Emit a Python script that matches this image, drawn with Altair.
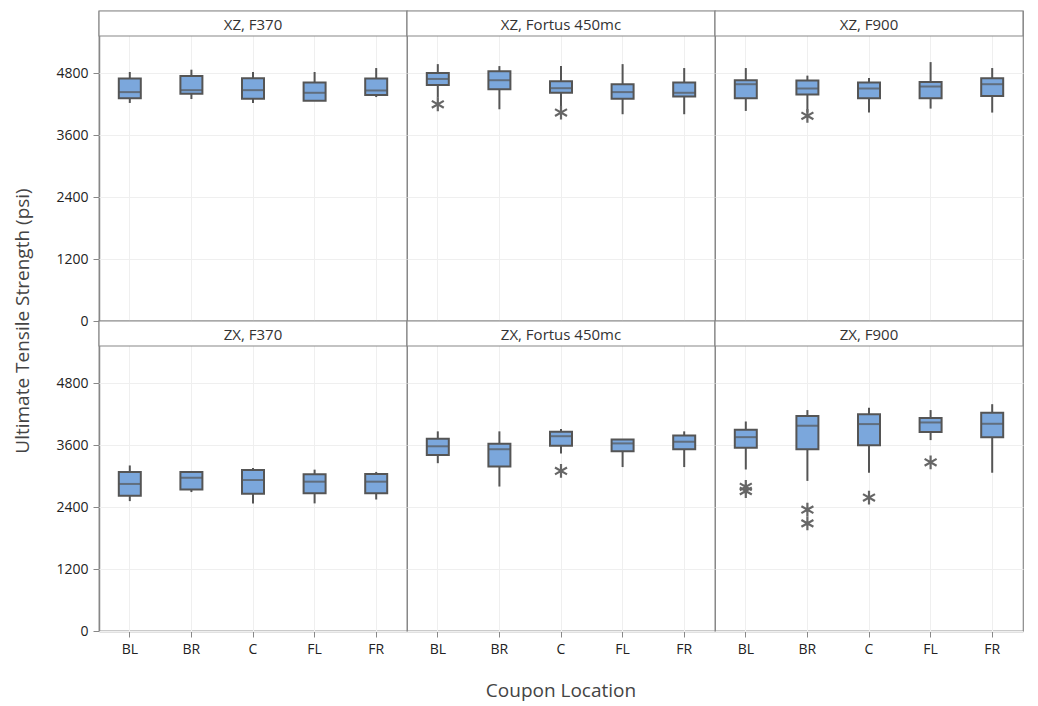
import altair as alt
import pandas as pd

orientations = ["XZ", "ZX"]
printers = ["F370", "Fortus 450mc", "F900"]
locations = ["BL", "BR", "C", "FL", "FR"]

# order: orientation -> printer -> location
whisker_low = [
    4220, 4296, 4220, 4264, 4334,
    4321, 4098, 4162, 4002, 4002,
    4066, 4034, 4034, 4111, 4034,
    2514, 2689, 2470, 2470, 2545,
    3248, 2796, 3437, 3173, 3173,
    3126, 2905, 3063, 3695, 3063,
]
q1 = [
    4309, 4398, 4302, 4264, 4372,
    4570, 4487, 4417, 4302, 4347,
    4309, 4385, 4309, 4309, 4353,
    2620, 2740, 2658, 2664, 2664,
    3405, 3186, 3587, 3481, 3518,
    3549, 3518, 3594, 3853, 3752,
]
median = [
    4430, 4468, 4468, 4417, 4462,
    4685, 4660, 4506, 4430, 4417,
    4583, 4500, 4500, 4538, 4583,
    2846, 2966, 2922, 2890, 2890,
    3575, 3518, 3770, 3631, 3663,
    3752, 3973, 4005, 4036, 4011,
]
q3 = [
    4692, 4743, 4698, 4615, 4692,
    4800, 4832, 4640, 4583, 4615,
    4660, 4653, 4615, 4628, 4698,
    3079, 3079, 3116, 3035, 3041,
    3719, 3625, 3857, 3707, 3782,
    3897, 4163, 4194, 4125, 4226,
]
whisker_high = [
    4819, 4864, 4819, 4819, 4896,
    4972, 4934, 4934, 4972, 4896,
    4896, 4749, 4704, 5011, 4896,
    3204, 3079, 3154, 3123, 3079,
    3864, 3864, 3908, 3707, 3864,
    4055, 4276, 4320, 4276, 4390,
]

outlier_orientation = ["XZ", "XZ", "XZ", "ZX", "ZX", "ZX", "ZX", "ZX", "ZX", "ZX"]
outlier_printer = ["Fortus 450mc", "Fortus 450mc", "F900", "Fortus 450mc",
                   "F900", "F900", "F900", "F900", "F900", "F900"]
outlier_location = ["BL", "C", "BR", "C", "BL", "BL", "BR", "BR", "C", "FL"]
outlier_value = [4194, 4034, 3971, 3098, 2790, 2710, 2349, 2083, 2582, 3265]

rows = []
i = 0
for o in orientations:
    for p in printers:
        for loc in locations:
            rows.append(dict(kind="box", orient=o, printer=p, loc=loc,
                             panel=f"{o}, {p}", lo=whisker_low[i], q1=q1[i],
                             med=median[i], q3=q3[i], hi=whisker_high[i], val=None))
            i += 1
for o, p, loc, v in zip(outlier_orientation, outlier_printer, outlier_location, outlier_value):
    rows.append(dict(kind="out", orient=o, printer=p, loc=loc, panel=f"{o}, {p}",
                     lo=None, q1=None, med=None, q3=None, hi=None, val=v))
df = pd.DataFrame(rows)

W = 308
H = 310
HEAD = 25
FONT = "Open Sans"
BOX_FILL = "#7ba7dc"
LINE = "#555555"

xenc = alt.X("loc:N", sort=locations, title=None,
             scale=alt.Scale(paddingInner=0, paddingOuter=0),
             axis=alt.Axis(labelAngle=0))
yscale = alt.Scale(domain=[0, 6000], nice=False)
yaxis = alt.Axis(values=[0, 1200, 2400, 3600, 4800], title=None, format="d")

base = alt.Chart()
boxdata = base.transform_filter(alt.datum.kind == "box")

whisk = boxdata.mark_rule(color=LINE, strokeWidth=2).encode(
    x=xenc, y=alt.Y("lo:Q", scale=yscale, axis=yaxis), y2="hi:Q")
box = boxdata.mark_bar(size=22, fill=BOX_FILL, stroke=LINE, strokeWidth=2).encode(
    x=xenc, y=alt.Y("q1:Q", scale=yscale, axis=yaxis), y2="q3:Q")
med = boxdata.mark_tick(size=22, thickness=2, color=LINE).encode(
    x=xenc, y=alt.Y("med:Q", scale=yscale, axis=yaxis))
star = "M0,-1L0,1M-0.87,-0.5L0.87,0.5M-0.87,0.5L0.87,-0.5"
outs = base.transform_filter(alt.datum.kind == "out").mark_point(
    shape=star, size=190, filled=False, stroke="#666666", strokeWidth=2.2, opacity=1).encode(
    x=xenc, y=alt.Y("val:Q", scale=yscale, axis=yaxis))

headdata = base.transform_filter((alt.datum.kind == "box") & (alt.datum.loc == "BL"))
headrect = headdata.mark_rect(fill="white", stroke="#888888", strokeWidth=1.2).encode(
    x=alt.value(0), x2=alt.value(W), y=alt.value(0), y2=alt.value(HEAD))
headtext = headdata.mark_text(font=FONT, fontSize=15, color="#333333", baseline="middle").encode(
    x=alt.value(W / 2), y=alt.value(HEAD / 2 + 1), text="panel:N")

layer = alt.layer(whisk, box, med, outs, headrect, headtext).properties(width=W, height=H)

chart = layer.facet(
    data=df,
    row=alt.Row("orient:N", sort=orientations,
                header=alt.Header(labels=False, title="Ultimate Tensile Strength (psi)",
                                  titleOrient="left", titleFont=FONT, titleFontSize=19,
                                  titleFontWeight="normal", titleColor="#444444",
                                  titlePadding=12)),
    column=alt.Column("printer:N", sort=printers,
                      header=alt.Header(labels=False, title="Coupon Location",
                                        titleOrient="bottom", titleFont=FONT, titleFontSize=19,
                                        titleFontWeight="normal", titleColor="#444444",
                                        titlePadding=16)),
    spacing=0,
    bounds="flush",
).configure_view(stroke="#888888", strokeWidth=1.2).configure_axis(
    labelFont=FONT, labelFontSize=14, labelColor="#222222",
    gridColor="#efefef", gridWidth=1, domainColor="#888888", domainWidth=1.5,
    tickColor="#888888", tickSize=6, labelPadding=5,
).configure_axisX(grid=True).configure_axisY(grid=True).properties(
    padding={"left": 5, "top": 1, "right": 2, "bottom": 2}
)

chart.save("out.html", embed_options={"renderer": "svg", "actions": False})
